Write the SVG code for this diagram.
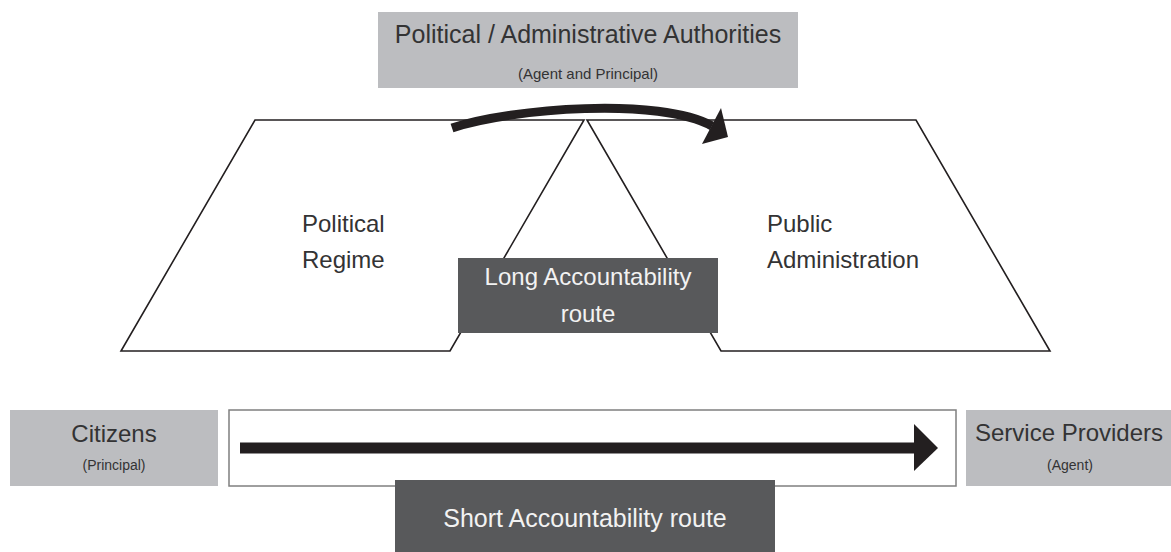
<svg xmlns="http://www.w3.org/2000/svg" width="1171" height="552" viewBox="0 0 1171 552">
<style>
.lbl{font-family:"Liberation Sans",Arial,sans-serif;fill:#333334;text-anchor:middle}
.wl{font-family:"Liberation Sans",Arial,sans-serif;fill:#f2f2f2;text-anchor:middle}
.gray{fill:#bcbdc0}
.dark{fill:#58595b}
.para{fill:#ffffff;stroke:#231f20;stroke-width:1.6;stroke-linejoin:miter}
</style>
<rect width="1171" height="552" fill="#ffffff"/>
<g id="authorities">
<rect class="gray" x="378" y="12" width="420" height="76"/>
<text class="lbl" x="588" y="43" font-size="25">Political / Administrative Authorities</text>
<text class="lbl" x="588" y="79" font-size="15">(Agent and Principal)</text>
</g>
<g id="political-regime">
<polygon class="para" points="255,120 584,120 450,351 121,351"/>
<text class="lbl" x="302" y="232" font-size="24" style="text-anchor:start">Political</text>
<text class="lbl" x="302" y="268" font-size="24" style="text-anchor:start">Regime</text>
</g>
<g id="public-administration">
<polygon class="para" points="587,120 916,120 1050,351 721,351"/>
<text class="lbl" x="767" y="232" font-size="24" style="text-anchor:start">Public</text>
<text class="lbl" x="767" y="268" font-size="24" style="text-anchor:start">Administration</text>
</g>
<g id="long-route">
<rect class="dark" x="458" y="258" width="260" height="75"/>
<text class="wl" x="588" y="285" font-size="24">Long Accountability</text>
<text class="wl" x="588" y="322" font-size="24">route</text>
</g>
<g id="citizens">
<rect class="gray" x="10" y="410" width="208" height="76"/>
<text class="lbl" x="114" y="442" font-size="24">Citizens</text>
<text class="lbl" x="114" y="470" font-size="14">(Principal)</text>
</g>
<g id="service-providers">
<rect class="gray" x="966" y="410" width="205" height="76"/>
<text class="lbl" x="1069" y="441" font-size="24">Service Providers</text>
<text class="lbl" x="1070" y="470" font-size="14">(Agent)</text>
</g>
<g id="connectors">
<path d="M452,128 C512,108 660,97 712,126" fill="none" stroke="#231f20" stroke-width="9"/>
<polygon points="721,108 728,137 702,144" fill="#231f20"/>
<rect x="229" y="410" width="727" height="76" fill="#ffffff" stroke="#7f7f7f" stroke-width="1.5"/>
<rect x="240" y="442.5" width="675" height="11" fill="#231f20"/>
<polygon points="914,424 938,448 914,471" fill="#231f20"/>
</g>
<g id="short-route">
<rect class="dark" x="395" y="480" width="380" height="72"/>
<text class="wl" x="585" y="527" font-size="25">Short Accountability route</text>
</g>
</svg>
